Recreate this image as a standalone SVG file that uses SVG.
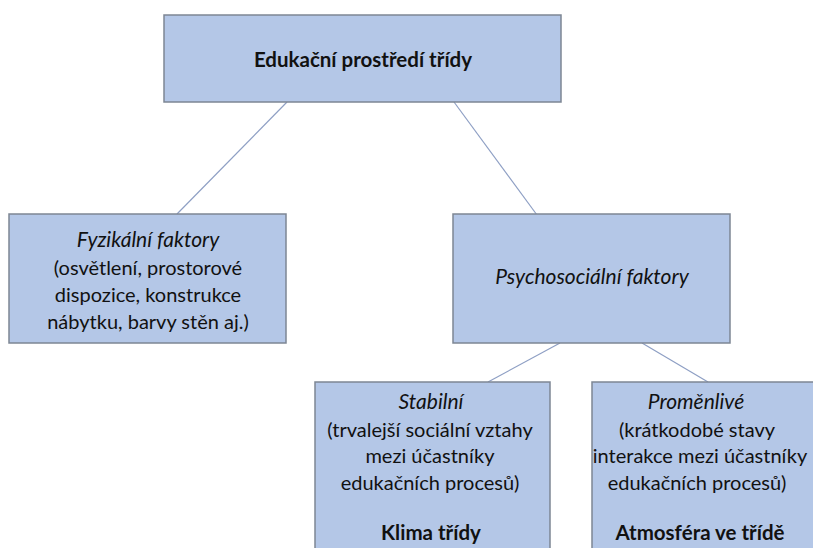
<svg xmlns="http://www.w3.org/2000/svg" width="813" height="548" viewBox="0 0 813 548">
<style>
.box{fill:#B4C7E7;stroke:#7D8694;stroke-width:1.5}
.t{font-family:Lato,"Liberation Sans",sans-serif;font-size:20px;fill:#111;text-anchor:middle}
.b{font-weight:bold;font-size:20.5px}
.i{font-style:italic;font-size:21px}
.c{stroke:#8E9FC4;stroke-width:1.2;fill:none}
</style>
<rect width="813" height="548" fill="#fff"/>
<g id="connectors">
<line class="c" x1="287" y1="102" x2="177" y2="214"/>
<line class="c" x1="454" y1="102" x2="537" y2="215"/>
<line class="c" x1="560" y1="343" x2="488" y2="382"/>
<line class="c" x1="642" y1="343" x2="708" y2="382"/>
</g>
<g id="root">
<rect class="box" x="164" y="15" width="397" height="87"/>
<text class="t b" x="363" y="67">Edukační prostředí třídy</text>
</g>
<g id="fyzikalni">
<rect class="box" x="9" y="214" width="277" height="129"/>
<text class="t i" x="148" y="247">Fyzikální faktory</text>
<text class="t" x="148" y="275">(osvětlení, prostorové</text>
<text class="t" x="148" y="302">dispozice, konstrukce</text>
<text class="t" x="148" y="329">nábytku, barvy stěn aj.)</text>
</g>
<g id="psychosocialni">
<rect class="box" x="453" y="214" width="277" height="129"/>
<text class="t i" x="592" y="284">Psychosociální faktory</text>
</g>
<g id="stabilni">
<rect class="box" x="315" y="382" width="235" height="180"/>
<text class="t i" x="431" y="409">Stabilní</text>
<text class="t" x="430" y="437">(trvalejší sociální vztahy</text>
<text class="t" x="430" y="463">mezi účastníky</text>
<text class="t" x="430" y="490">edukačních procesů)</text>
<text class="t b" x="431" y="540">Klima třídy</text>
</g>
<g id="promenlive">
<rect class="box" x="592" y="382" width="240" height="180"/>
<text class="t i" x="696" y="409">Proměnlivé</text>
<text class="t" x="697" y="437">(krátkodobé stavy</text>
<text class="t" x="700" y="463">interakce mezi účastníky</text>
<text class="t" x="697" y="490">edukačních procesů)</text>
<text class="t b" x="700" y="540">Atmosféra ve třídě</text>
</g>
</svg>
